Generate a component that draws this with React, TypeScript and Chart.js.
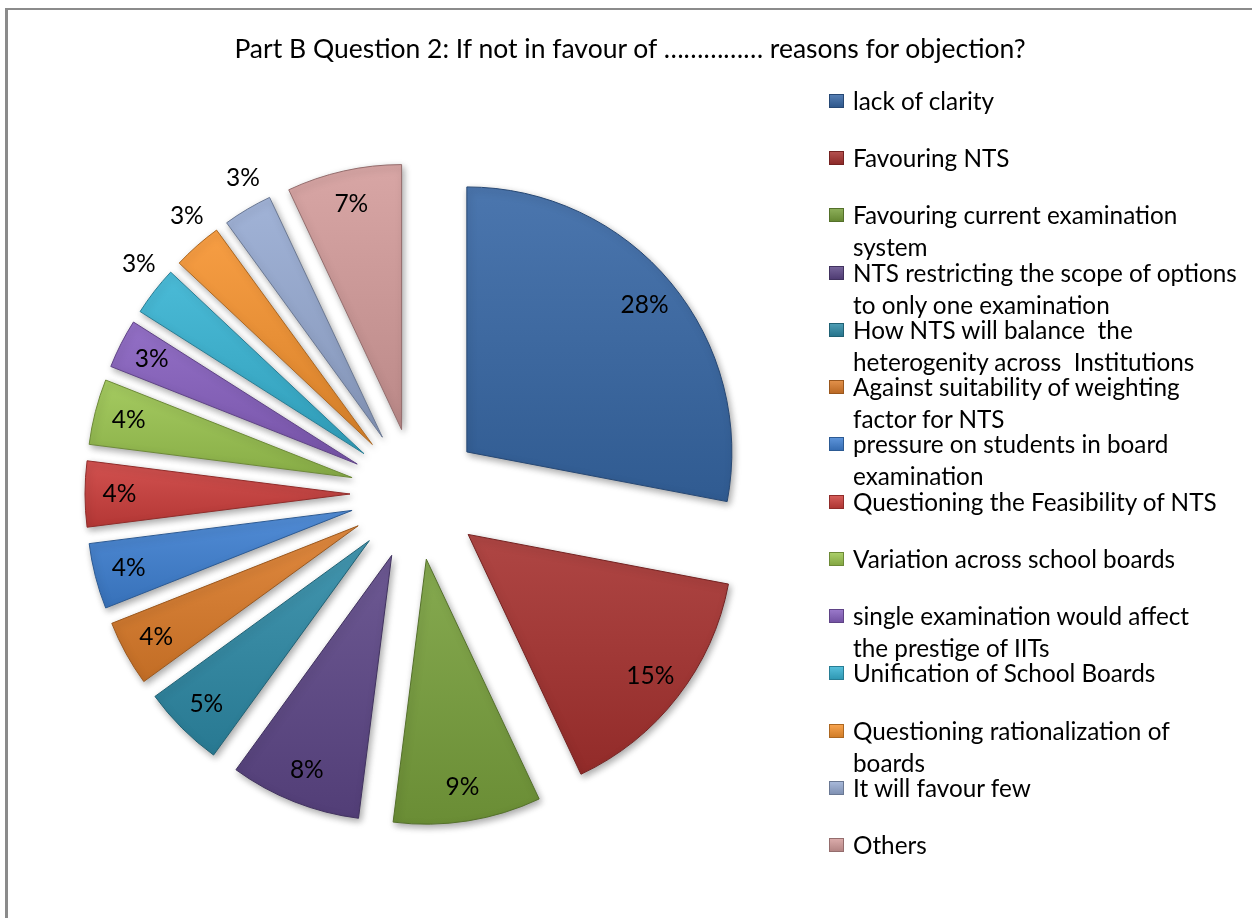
import React, { useEffect, useRef } from 'react';
import { Chart, registerables } from 'chart.js';

Chart.register(...registerables);

const TITLE = 'Part B Question 2: If not in favour of …………… reasons for objection?';

const categories = [
  'lack of clarity',
  'Favouring NTS',
  'Favouring current examination system',
  'NTS restricting the scope of options to only one examination',
  'How NTS will balance  the heterogenity across  Institutions',
  'Against suitability of weighting factor for NTS',
  'pressure on students in board examination',
  'Questioning the Feasibility of NTS',
  'Variation across school boards',
  'single examination would affect the prestige of IITs',
  'Unification of School Boards',
  'Questioning rationalization of boards',
  'It will favour few',
  'Others',
];

const legendLines = [
  ['lack of clarity'],
  ['Favouring NTS'],
  ['Favouring current examination', 'system'],
  ['NTS restricting the scope of options', 'to only one examination'],
  ['How NTS will balance  the', 'heterogenity across  Institutions'],
  ['Against suitability of weighting', 'factor for NTS'],
  ['pressure on students in board', 'examination'],
  ['Questioning the Feasibility of NTS'],
  ['Variation across school boards'],
  ['single examination would affect', 'the prestige of IITs'],
  ['Unification of School Boards'],
  ['Questioning rationalization of', 'boards'],
  ['It will favour few'],
  ['Others'],
];

const values = [28, 15, 9, 8, 5, 4, 4, 4, 4, 3, 3, 3, 3, 7];
const percentLabels = ['28%', '15%', '9%', '8%', '5%', '4%', '4%', '4%', '4%', '3%', '3%', '3%', '3%', '7%'];

const sliceColors = [
  '#3767a5', '#a6312f', '#78a03c', '#5d4787', '#2e8aa6', '#dc7c2a',
  '#3f80d2', '#cd3f3c', '#9bc54f', '#8760c0', '#37b3d3', '#f6932f',
  '#97abd2', '#d49c9b',
];

const outsideLabelIdx = [10, 11, 12];

const W = 1252;
const H = 918;
const CENTER_X = 416;
const CENTER_Y = 494;
const RADIUS = 265;
const EXPLODE = 66;
const FONT = 'Lato, "Open Sans", sans-serif';

function hexToRgb(h: string) {
  const n = parseInt(h.slice(1), 16);
  return [(n >> 16) & 255, (n >> 8) & 255, n & 255];
}
function mix(h: string, target: number, t: number) {
  const [r, g, b] = hexToRgb(h);
  const f = (c: number) => Math.round(c + (target - c) * t);
  return `rgb(${f(r)},${f(g)},${f(b)})`;
}
const lighten = (h: string, t: number) => mix(h, 255, t);
const darken = (h: string, t: number) => mix(h, 0, t);

function sliceFill(c: any) {
  const i = c.dataIndex;
  const base = sliceColors[i] || '#888';
  const chart = c.chart;
  const area = chart.chartArea;
  if (!area || i === undefined) return base;
  const total = values.reduce((a, b) => a + b, 0);
  let before = 0;
  for (let k = 0; k < i; k++) before += values[k];
  const a0 = -Math.PI / 2 + (before / total) * 2 * Math.PI;
  const a1 = a0 + (values[i] / total) * 2 * Math.PI;
  const mid = (a0 + a1) / 2;
  const cx = (area.left + area.right) / 2 + Math.cos(mid) * EXPLODE;
  const cy = (area.top + area.bottom) / 2 + Math.sin(mid) * EXPLODE;
  let minY = cy;
  let maxY = cy;
  for (let s = 0; s <= 20; s++) {
    const a = a0 + ((a1 - a0) * s) / 20;
    const y = cy + Math.sin(a) * RADIUS;
    minY = Math.min(minY, y);
    maxY = Math.max(maxY, y);
  }
  if (maxY - minY < 1) maxY = minY + 1;
  const g = chart.ctx.createLinearGradient(0, minY, 0, maxY);
  g.addColorStop(0, lighten(base, 0.1));
  g.addColorStop(1, darken(base, 0.12));
  return g;
}

const explodePlugin = {
  id: 'explodeSlices',
  afterDatasetUpdate(chart: any, args: any) {
    const meta = chart.getDatasetMeta(args.index);
    meta.data.forEach((arc: any) => {
      const mid = (arc.startAngle + arc.endAngle) / 2;
      arc.x += Math.cos(mid) * EXPLODE;
      arc.y += Math.sin(mid) * EXPLODE;
    });
  },
};

const shadowPlugin = {
  id: 'sliceShadow',
  beforeDatasetsDraw(chart: any) {
    const ctx = chart.ctx;
    ctx.save();
    ctx.shadowColor = 'rgba(0,0,0,0.35)';
    ctx.shadowBlur = 7;
    ctx.shadowOffsetX = 2;
    ctx.shadowOffsetY = 3;
  },
  afterDatasetsDraw(chart: any) {
    chart.ctx.restore();
  },
};

const labelPlugin = {
  id: 'sliceLabels',
  afterDatasetsDraw(chart: any) {
    const ctx = chart.ctx;
    const meta = chart.getDatasetMeta(0);
    ctx.save();
    ctx.font = `24.5px ${FONT}`;
    ctx.fillStyle = '#000';
    ctx.textAlign = 'center';
    ctx.textBaseline = 'middle';
    meta.data.forEach((arc: any, i: number) => {
      const outside = outsideLabelIdx.includes(i);
      const mid = (arc.startAngle + arc.endAngle) / 2 + (outside ? 0.04 : 0);
      const f = outside ? 1.11 : 0.87;
      ctx.fillText(
        percentLabels[i],
        arc.x + Math.cos(mid) * arc.outerRadius * f,
        arc.y + Math.sin(mid) * arc.outerRadius * f
      );
    });
    ctx.restore();
  },
};

export default function App() {
  const canvasRef = useRef<HTMLCanvasElement | null>(null);

  useEffect(() => {
    const canvas = canvasRef.current;
    if (!canvas) return;
    const chart = new Chart(canvas, {
      type: 'pie',
      data: {
        labels: categories,
        datasets: [
          {
            data: values,
            backgroundColor: sliceFill as any,
            borderColor: sliceColors.map((c) => darken(c, 0.3)),
            borderWidth: 1,
          },
        ],
      },
      options: {
        responsive: false,
        animation: false,
        events: [],
        radius: RADIUS,
        layout: {
          padding: { left: 0, right: W - 2 * CENTER_X, top: 2 * CENTER_Y - H, bottom: 0 },
        },
        plugins: {
          legend: { display: false },
          title: { display: false },
          tooltip: { enabled: false },
        },
      } as any,
      plugins: [explodePlugin, shadowPlugin, labelPlugin],
    });
    return () => chart.destroy();
  }, []);

  const ITEM_START = 101;
  const ITEM_STEP = 57.23;
  const LINE_H = 32;

  return (
    <div
      style={{
        position: 'absolute',
        left: 0,
        top: 0,
        width: W,
        height: H,
        overflow: 'hidden',
        background: '#fff',
        fontFamily: FONT,
      }}
    >
      <div
        style={{
          position: 'absolute',
          left: 5,
          top: 8,
          width: W - 5,
          height: H - 8,
          boxSizing: 'border-box',
          borderLeft: '3px solid #8b8b8b',
          borderTop: '2px solid #8b8b8b',
        }}
      />
      <canvas ref={canvasRef} width={W} height={H} style={{ position: 'absolute', left: 0, top: 0 }} />
      <div
        style={{
          position: 'absolute',
          left: 0,
          width: 1260,
          top: 48 - 17,
          height: 34,
          lineHeight: '34px',
          textAlign: 'center',
          fontSize: 26.5,
          color: '#000',
          whiteSpace: 'pre',
        }}
      >
        {TITLE}
      </div>
      {legendLines.map((lines, i) => {
        const cy = ITEM_START + ITEM_STEP * i;
        const c = sliceColors[i];
        return (
          <React.Fragment key={i}>
            <div
              style={{
                position: 'absolute',
                left: 829,
                top: cy - 7,
                width: 15,
                height: 14,
                boxSizing: 'border-box',
                background: `linear-gradient(to bottom, ${lighten(c, 0.15)}, ${darken(c, 0.15)})`,
                border: `1px solid ${darken(c, 0.3)}`,
              }}
            />
            {lines.map((ln, j) => (
              <div
                key={j}
                style={{
                  position: 'absolute',
                  left: 853,
                  top: cy - LINE_H / 2 + j * LINE_H,
                  height: LINE_H,
                  lineHeight: `${LINE_H}px`,
                  fontSize: 24.3,
                  color: '#000',
                  whiteSpace: 'pre',
                }}
              >
                {ln}
              </div>
            ))}
          </React.Fragment>
        );
      })}
    </div>
  );
}
